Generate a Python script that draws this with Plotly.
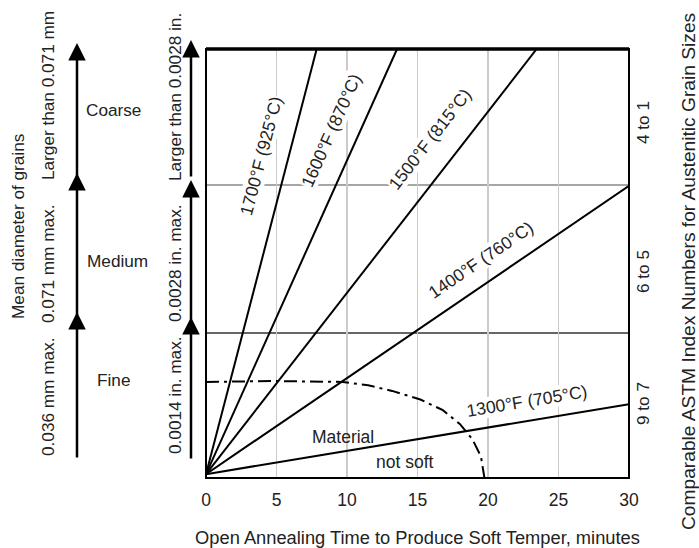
import plotly.graph_objects as go

# ---------------- data ----------------
x_ticks = [0, 5, 10, 15, 20, 25, 30]
x_title = "Open Annealing Time to Produce Soft Temper, minutes"

# temperature lines: start (0, start_y) -> end (end_x, end_y); y in % of chart height
temp_labels = ["1700°F (925°C)", "1600°F (870°C)", "1500°F (815°C)", "1400°F (760°C)", "1300°F (705°C)"]
line_start_y = [0.9, 0.9, 0.9, 0.9, 0.9]
line_end_x = [7.85, 13.55, 23.45, 30.0, 30.0]
line_end_y = [100.0, 100.0, 100.0, 68.1, 17.2]
label_x = [3.9, 8.9, 15.9, 19.5, 22.8]
label_y = [75.1, 81.1, 79.0, 50.8, 17.9]
label_angle = [-75.4, -65.8, -52.1, -34.2, -9.4]

# "material not soft" boundary (dash-dot)
soft_x = [0, 5, 9.7, 11.5, 13.2, 15.2, 16.8, 18.0, 18.9, 19.5, 19.75]
soft_y = [22.4, 22.6, 22.4, 21.6, 20.3, 18.3, 15.8, 12.6, 9.0, 5.0, 0]

# grain size band boundaries
band_y = [33.8, 68.3]
band_colors = ["#333333", "#888888"]
grain_names = ["Fine", "Medium", "Coarse"]
mm_labels = ["0.036 mm max.", "0.071 mm max.", "Larger than 0.071 mm"]
in_labels = ["0.0014 in. max.", "0.0028 in. max.", "Larger than 0.0028 in."]
astm_labels = ["9 to 7", "6 to 5", "4 to 1"]

FONT = "Liberation Sans, Arial, sans-serif"
TXT = "#222222"
FS = 17.5

def ann_font(size=FS):
    return dict(family=FONT, size=size, color=TXT)

fig = go.Figure()

# temperature lines
for i, name in enumerate(temp_labels):
    fig.add_trace(go.Scatter(x=[0, line_end_x[i]], y=[line_start_y[i], line_end_y[i]],
                             mode="lines", line=dict(color="black", width=2),
                             hoverinfo="skip", showlegend=False))
    fig.add_annotation(x=label_x[i], y=label_y[i], xref="x", yref="y", text=name,
                       showarrow=False, textangle=label_angle[i],
                       xanchor="center", yanchor="middle",
                       font=ann_font(), bgcolor="white", borderpad=0)

# dash-dot boundary
fig.add_trace(go.Scatter(x=soft_x, y=soft_y, mode="lines",
                         line=dict(color="black", width=2, dash="13px,5px,3px,5px"),
                         hoverinfo="skip", showlegend=False))

fig.add_annotation(x=9.7, y=9.6, xref="x", yref="y", text="Material", showarrow=False,
                   xanchor="center", yanchor="middle", font=ann_font())
fig.add_annotation(x=14.1, y=3.7, xref="x", yref="y", text="not soft", showarrow=False,
                   xanchor="center", yanchor="middle", font=ann_font())

# band lines
for yv, c in zip(band_y, band_colors):
    fig.add_shape(type="line", xref="paper", yref="y", x0=0, x1=1, y0=yv, y1=yv,
                  line=dict(color=c, width=1.5), layer="below")

# frame
fig.add_shape(type="rect", xref="paper", yref="paper", x0=0, x1=1, y0=0, y1=1,
              line=dict(color="black", width=2))
fig.add_shape(type="line", xref="paper", yref="paper", x0=0, x1=1, y0=1, y1=1,
              line=dict(color="black", width=3.5))

# ------------- side scales (paper coords from page pixel positions) -------------
L, R, T, B = 206, 629, 49, 478   # plot area on the page
def px(xp):
    return (xp - L) / (R - L)
def py(yp):
    return (B - yp) / (B - T)

# arrows: (x pixel, tail y, tip y)
arrow_cols = [77, 191]
arrow_tails = [[459, 323, 182], [460, 321, 178]]
arrow_tips = [[312, 173, 43], [317, 180, 40]]
for ci, xc in enumerate(arrow_cols):
    for k in range(3):
        tail, tip = arrow_tails[ci][k], arrow_tips[ci][k]
        fig.add_annotation(x=px(xc), y=py(tip), xref="paper", yref="paper",
                           ax=0, ay=tail - tip, axref="pixel", ayref="pixel",
                           showarrow=True, arrowhead=2, arrowsize=1.4, arrowwidth=2.5,
                           arrowcolor="black", text="")

SIDE_FS = 17.2
mm_y = [397, 264, 96]
in_y = [395, 263, 97]
name_pos = [(113, 380), (117, 261), (113, 110)]
for k in range(3):
    fig.add_annotation(x=px(48), y=py(mm_y[k]), xref="paper", yref="paper", text=mm_labels[k],
                       showarrow=False, textangle=-90, xanchor="center", yanchor="middle",
                       font=ann_font(SIDE_FS))
    fig.add_annotation(x=px(175), y=py(in_y[k]), xref="paper", yref="paper", text=in_labels[k],
                       showarrow=False, textangle=-90, xanchor="center", yanchor="middle",
                       font=ann_font(SIDE_FS))
    fig.add_annotation(x=px(name_pos[k][0]), y=py(name_pos[k][1]), xref="paper", yref="paper",
                       text=grain_names[k], showarrow=False, xanchor="center", yanchor="middle",
                       font=ann_font(SIDE_FS))

fig.add_annotation(x=px(18), y=py(227), xref="paper", yref="paper", text="Mean diameter of grains",
                   showarrow=False, textangle=-90, xanchor="center", yanchor="middle",
                   font=ann_font(SIDE_FS))

astm_y = [404, 272, 123]
for k in range(3):
    fig.add_annotation(x=px(643), y=py(astm_y[k]), xref="paper", yref="paper", text=astm_labels[k],
                       showarrow=False, textangle=-90, xanchor="center", yanchor="middle",
                       font=ann_font(SIDE_FS))
fig.add_annotation(x=px(688), y=py(272), xref="paper", yref="paper",
                   text="Comparable ASTM Index Numbers for Austenitic Grain Sizes",
                   showarrow=False, textangle=-90, xanchor="center", yanchor="middle",
                   font=ann_font(19.2))

fig.update_layout(
    width=699, height=548,
    margin=dict(l=L, r=699 - R, t=T, b=548 - B, pad=0, autoexpand=False),
    plot_bgcolor="white", paper_bgcolor="white",
    showlegend=False,
    font=dict(family=FONT, size=FS, color=TXT),
    xaxis=dict(range=[0, 30], tickvals=x_ticks, ticks="", showline=False, automargin=False,
               showgrid=True, gridcolor="#cfcaca", gridwidth=1.5, zeroline=False,
               tickfont=ann_font(), ticklabelstandoff=9,
               title=dict(text=x_title, font=ann_font(18.3), standoff=22)),
    yaxis=dict(range=[0, 100], showticklabels=False, showgrid=False, zeroline=False,
               ticks="", showline=False, automargin=False),
)

fig.write_html("out.html",
               config={"displayModeBar": False, "staticPlot": True},
               post_script="document.body.style.margin='0';"
                           "document.documentElement.style.overflow='hidden';")
